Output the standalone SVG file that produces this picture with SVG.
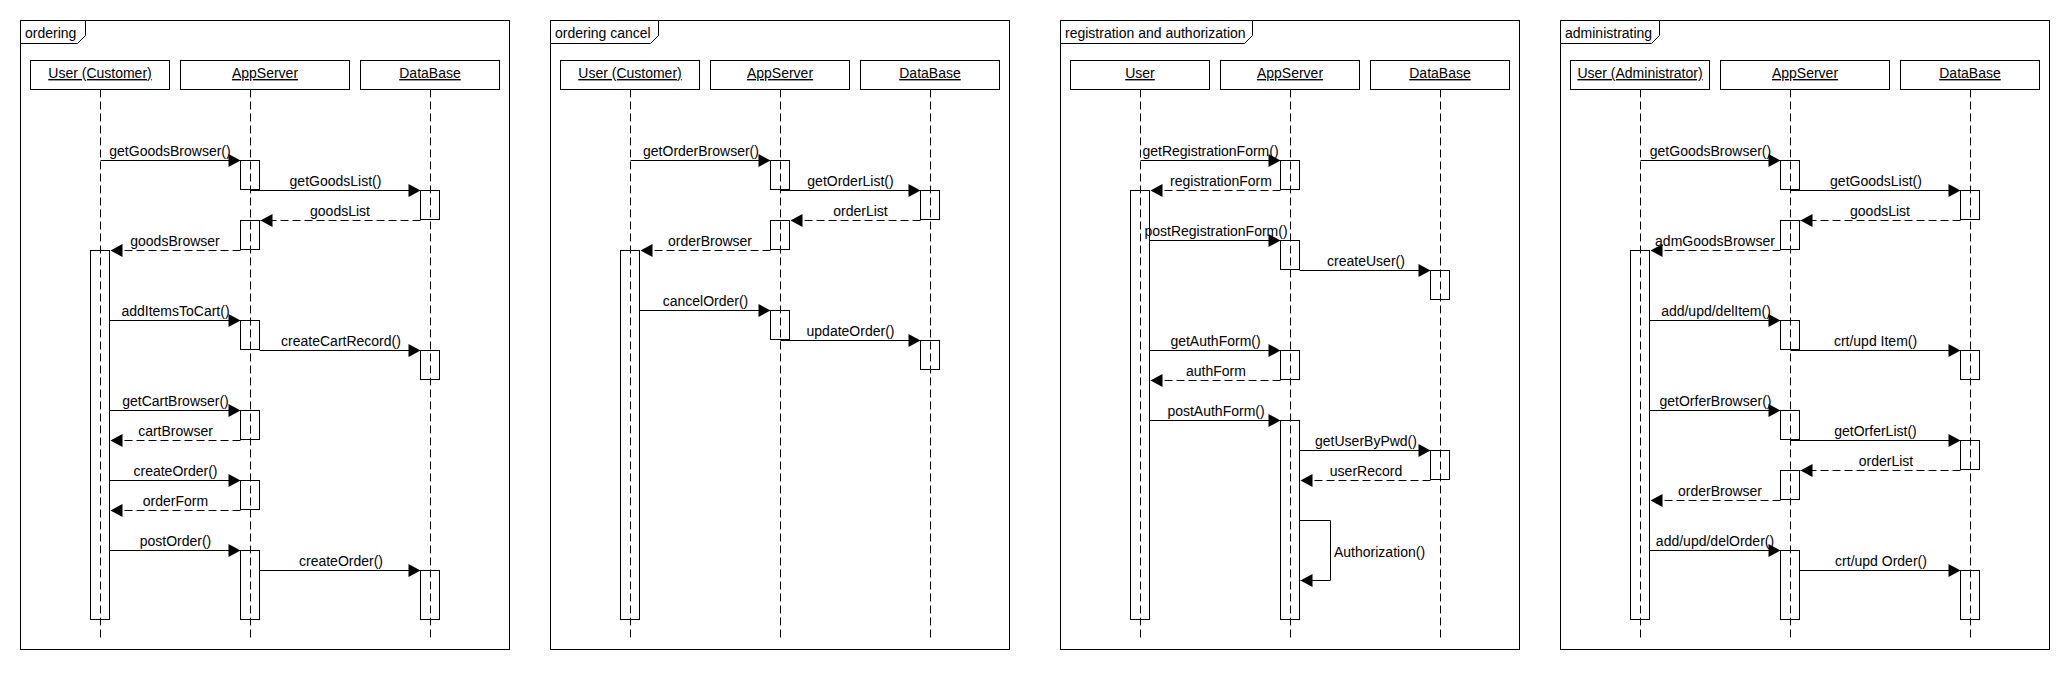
<svg xmlns="http://www.w3.org/2000/svg" width="2070" height="680" viewBox="0 0 2070 680">
<style>
text{font-family:"Liberation Sans",Arial,sans-serif;font-size:14px;fill:#000}
.frame{fill:none;stroke:#000;stroke-width:1}
.tab{fill:#fff;stroke:#000;stroke-width:1}
.head{fill:#fff;stroke:#000;stroke-width:1}
.hl{text-anchor:middle;text-decoration:underline}
.life{stroke:#000;stroke-width:1;stroke-dasharray:8 4;fill:none}
.act{fill:none;stroke:#000;stroke-width:1}
.msg{fill:none;stroke:#000;stroke-width:1;marker-end:url(#ah)}
.ret{fill:none;stroke:#000;stroke-width:1;stroke-dasharray:8 4;marker-end:url(#ah)}
.ml{text-anchor:middle}
</style>
<defs>
<marker id="ah" markerUnits="userSpaceOnUse" markerWidth="14" markerHeight="14" refX="12" refY="6.5" orient="auto" overflow="visible">
<path d="M0,0 L12,6.5 L0,13 Z" fill="#000" stroke="none"/>
</marker>
</defs>
<rect width="2070" height="680" fill="#fff"/>

<!-- ===== Diagram 1: ordering ===== -->
<g id="frame-ordering">
<rect class="frame" x="20.5" y="20.5" width="489" height="629"/>
<path class="tab" d="M20.5,20.5 H85.5 V35.5 L77.5,43.5 H20.5 Z"/>
<text x="25" y="38">ordering</text>
</g>
<g id="d1-user">
<rect class="head" x="30.5" y="60.5" width="139" height="29"/>
<text class="hl" x="100" y="78">User (Customer)</text>
<rect class="act" x="90.5" y="250.5" width="19" height="369"/>
<line class="life" x1="100.5" y1="89.5" x2="100.5" y2="640"/>
</g>
<g id="d1-appserver">
<rect class="head" x="180.5" y="60.5" width="169" height="29"/>
<text class="hl" x="265" y="78">AppServer</text>
<rect class="act" x="240.5" y="160.5" width="19" height="29"/>
<rect class="act" x="240.5" y="220.5" width="19" height="29"/>
<rect class="act" x="240.5" y="320.5" width="19" height="29"/>
<rect class="act" x="240.5" y="410.5" width="19" height="29"/>
<rect class="act" x="240.5" y="480.5" width="19" height="29"/>
<rect class="act" x="240.5" y="550.5" width="19" height="69"/>
<line class="life" x1="250.5" y1="89.5" x2="250.5" y2="640"/>
</g>
<g id="d1-database">
<rect class="head" x="360.5" y="60.5" width="139" height="29"/>
<text class="hl" x="430" y="78">DataBase</text>
<rect class="act" x="420.5" y="190.5" width="19" height="29"/>
<rect class="act" x="420.5" y="350.5" width="19" height="29"/>
<rect class="act" x="420.5" y="570.5" width="19" height="49"/>
<line class="life" x1="430.5" y1="89.5" x2="430.5" y2="640"/>
</g>
<g id="d1-connectors">
<path class="msg" d="M100.5,160.5 H240.5"/><text class="ml" x="170" y="156">getGoodsBrowser()</text>
<path class="msg" d="M250.5,190.5 H420.5"/><text class="ml" x="335.5" y="186">getGoodsList()</text>
<path class="ret" d="M420.5,220.5 H260.5"/><text class="ml" x="340" y="216">goodsList</text>
<path class="ret" d="M240.5,250.5 H110.5"/><text class="ml" x="175" y="246">goodsBrowser</text>
<path class="msg" d="M109.5,320.5 H240.5"/><text class="ml" x="175.5" y="316">addItemsToCart()</text>
<path class="msg" d="M259.5,350.5 H420.5"/><text class="ml" x="341" y="346">createCartRecord()</text>
<path class="msg" d="M109.5,410.5 H240.5"/><text class="ml" x="175.5" y="406">getCartBrowser()</text>
<path class="ret" d="M240.5,440.5 H110.5"/><text class="ml" x="175.5" y="436">cartBrowser</text>
<path class="msg" d="M109.5,480.5 H240.5"/><text class="ml" x="175.5" y="476">createOrder()</text>
<path class="ret" d="M240.5,510.5 H110.5"/><text class="ml" x="175.5" y="506">orderForm</text>
<path class="msg" d="M109.5,550.5 H240.5"/><text class="ml" x="175.5" y="546">postOrder()</text>
<path class="msg" d="M259.5,570.5 H420.5"/><text class="ml" x="341" y="566">createOrder()</text>
</g>

<!-- ===== Diagram 2: ordering cancel ===== -->
<g id="frame-ordering-cancel">
<rect class="frame" x="550.5" y="20.5" width="459" height="629"/>
<path class="tab" d="M550.5,20.5 H658.5 V35.5 L650.5,43.5 H550.5 Z"/>
<text x="555" y="38">ordering cancel</text>
</g>
<g id="d2-user">
<rect class="head" x="560.5" y="60.5" width="139" height="29"/>
<text class="hl" x="630" y="78">User (Customer)</text>
<rect class="act" x="620.5" y="250.5" width="19" height="369"/>
<line class="life" x1="630.5" y1="89.5" x2="630.5" y2="640"/>
</g>
<g id="d2-appserver">
<rect class="head" x="710.5" y="60.5" width="139" height="29"/>
<text class="hl" x="780" y="78">AppServer</text>
<rect class="act" x="770.5" y="160.5" width="19" height="29"/>
<rect class="act" x="770.5" y="220.5" width="19" height="29"/>
<rect class="act" x="770.5" y="310.5" width="19" height="29"/>
<line class="life" x1="780.5" y1="89.5" x2="780.5" y2="640"/>
</g>
<g id="d2-database">
<rect class="head" x="860.5" y="60.5" width="139" height="29"/>
<text class="hl" x="930" y="78">DataBase</text>
<rect class="act" x="920.5" y="190.5" width="19" height="29"/>
<rect class="act" x="920.5" y="340.5" width="19" height="29"/>
<line class="life" x1="930.5" y1="89.5" x2="930.5" y2="640"/>
</g>
<g id="d2-connectors">
<path class="msg" d="M630.5,160.5 H770.5"/><text class="ml" x="701" y="156">getOrderBrowser()</text>
<path class="msg" d="M780.5,190.5 H920.5"/><text class="ml" x="850.5" y="186">getOrderList()</text>
<path class="ret" d="M920.5,220.5 H790.5"/><text class="ml" x="860.5" y="216">orderList</text>
<path class="ret" d="M770.5,250.5 H640.5"/><text class="ml" x="710" y="246">orderBrowser</text>
<path class="msg" d="M639.5,310.5 H770.5"/><text class="ml" x="705.5" y="306">cancelOrder()</text>
<path class="msg" d="M780.5,340.5 H920.5"/><text class="ml" x="850.5" y="336">updateOrder()</text>
</g>

<!-- ===== Diagram 3: registration and authorization ===== -->
<g id="frame-registration">
<rect class="frame" x="1060.5" y="20.5" width="459" height="629"/>
<path class="tab" d="M1060.5,20.5 H1252.5 V35.5 L1244.5,43.5 H1060.5 Z"/>
<text x="1065" y="38">registration and authorization</text>
</g>
<g id="d3-user">
<rect class="head" x="1070.5" y="60.5" width="139" height="29"/>
<text class="hl" x="1140" y="78">User</text>
<rect class="act" x="1130.5" y="190.5" width="19" height="429"/>
<line class="life" x1="1140.5" y1="89.5" x2="1140.5" y2="640"/>
</g>
<g id="d3-appserver">
<rect class="head" x="1220.5" y="60.5" width="139" height="29"/>
<text class="hl" x="1290" y="78">AppServer</text>
<rect class="act" x="1280.5" y="160.5" width="19" height="29"/>
<rect class="act" x="1280.5" y="240.5" width="19" height="29"/>
<rect class="act" x="1280.5" y="350.5" width="19" height="29"/>
<rect class="act" x="1280.5" y="420.5" width="19" height="199"/>
<line class="life" x1="1290.5" y1="89.5" x2="1290.5" y2="640"/>
</g>
<g id="d3-database">
<rect class="head" x="1370.5" y="60.5" width="139" height="29"/>
<text class="hl" x="1440" y="78">DataBase</text>
<rect class="act" x="1430.5" y="270.5" width="19" height="29"/>
<rect class="act" x="1430.5" y="450.5" width="19" height="29"/>
<line class="life" x1="1440.5" y1="89.5" x2="1440.5" y2="640"/>
</g>
<g id="d3-connectors">
<path class="msg" d="M1140.5,160.5 H1280.5"/><text class="ml" x="1210.5" y="156">getRegistrationForm()</text>
<path class="ret" d="M1280.5,190.5 H1150.5"/><text class="ml" x="1221" y="186">registrationForm</text>
<path class="msg" d="M1149.5,240.5 H1280.5"/><text class="ml" x="1216" y="236">postRegistrationForm()</text>
<path class="msg" d="M1299.5,270.5 H1430.5"/><text class="ml" x="1366" y="266">createUser()</text>
<path class="msg" d="M1149.5,350.5 H1280.5"/><text class="ml" x="1215.5" y="346">getAuthForm()</text>
<path class="ret" d="M1280.5,380.5 H1150.5"/><text class="ml" x="1216" y="376">authForm</text>
<path class="msg" d="M1149.5,420.5 H1280.5"/><text class="ml" x="1216" y="416">postAuthForm()</text>
<path class="msg" d="M1299.5,450.5 H1430.5"/><text class="ml" x="1366" y="446">getUserByPwd()</text>
<path class="ret" d="M1430.5,480.5 H1300.5"/><text class="ml" x="1366" y="476">userRecord</text>
<path class="msg" d="M1299.5,520.5 H1330.5 V580.5 H1300.5"/><text x="1334" y="557">Authorization()</text>
</g>

<!-- ===== Diagram 4: administrating ===== -->
<g id="frame-administrating">
<rect class="frame" x="1560.5" y="20.5" width="489" height="629"/>
<path class="tab" d="M1560.5,20.5 H1659.5 V35.5 L1651.5,43.5 H1560.5 Z"/>
<text x="1565" y="38">administrating</text>
</g>
<g id="d4-user">
<rect class="head" x="1570.5" y="60.5" width="139" height="29"/>
<text class="hl" x="1640" y="78">User (Administrator)</text>
<rect class="act" x="1630.5" y="250.5" width="19" height="369"/>
<line class="life" x1="1640.5" y1="89.5" x2="1640.5" y2="640"/>
</g>
<g id="d4-appserver">
<rect class="head" x="1720.5" y="60.5" width="169" height="29"/>
<text class="hl" x="1805" y="78">AppServer</text>
<rect class="act" x="1780.5" y="160.5" width="19" height="29"/>
<rect class="act" x="1780.5" y="220.5" width="19" height="29"/>
<rect class="act" x="1780.5" y="320.5" width="19" height="29"/>
<rect class="act" x="1780.5" y="410.5" width="19" height="29"/>
<rect class="act" x="1780.5" y="470.5" width="19" height="29"/>
<rect class="act" x="1780.5" y="550.5" width="19" height="69"/>
<line class="life" x1="1790.5" y1="89.5" x2="1790.5" y2="640"/>
</g>
<g id="d4-database">
<rect class="head" x="1900.5" y="60.5" width="139" height="29"/>
<text class="hl" x="1970" y="78">DataBase</text>
<rect class="act" x="1960.5" y="190.5" width="19" height="29"/>
<rect class="act" x="1960.5" y="350.5" width="19" height="29"/>
<rect class="act" x="1960.5" y="440.5" width="19" height="29"/>
<rect class="act" x="1960.5" y="570.5" width="19" height="49"/>
<line class="life" x1="1970.5" y1="89.5" x2="1970.5" y2="640"/>
</g>
<g id="d4-connectors">
<path class="msg" d="M1640.5,160.5 H1780.5"/><text class="ml" x="1710.5" y="156">getGoodsBrowser()</text>
<path class="msg" d="M1790.5,190.5 H1960.5"/><text class="ml" x="1876" y="186">getGoodsList()</text>
<path class="ret" d="M1960.5,220.5 H1800.5"/><text class="ml" x="1880" y="216">goodsList</text>
<path class="ret" d="M1780.5,250.5 H1650.5"/><text class="ml" x="1715" y="246">admGoodsBrowser</text>
<path class="msg" d="M1649.5,320.5 H1780.5"/><text class="ml" x="1716" y="316">add/upd/delItem()</text>
<path class="msg" d="M1790.5,350.5 H1960.5"/><text class="ml" x="1875.5" y="346">crt/upd Item()</text>
<path class="msg" d="M1649.5,410.5 H1780.5"/><text class="ml" x="1715.5" y="406">getOrferBrowser()</text>
<path class="msg" d="M1790.5,440.5 H1960.5"/><text class="ml" x="1875.5" y="436">getOrferList()</text>
<path class="ret" d="M1960.5,470.5 H1800.5"/><text class="ml" x="1886" y="466">orderList</text>
<path class="ret" d="M1780.5,500.5 H1650.5"/><text class="ml" x="1720" y="496">orderBrowser</text>
<path class="msg" d="M1649.5,550.5 H1780.5"/><text class="ml" x="1715" y="546">add/upd/delOrder()</text>
<path class="msg" d="M1799.5,570.5 H1960.5"/><text class="ml" x="1881" y="566">crt/upd Order()</text>
</g>
</svg>
